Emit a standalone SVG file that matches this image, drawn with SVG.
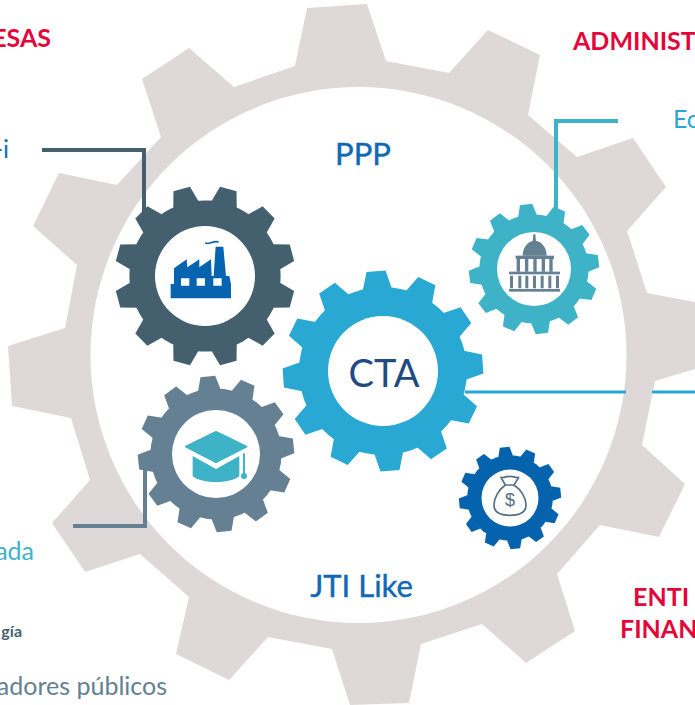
<svg xmlns="http://www.w3.org/2000/svg" width="695" height="705" viewBox="0 0 695 705">
<style>
text{font-family:Lato,"Open Sans","Liberation Sans",sans-serif}
.red{font-size:25px;font-weight:700;fill:#E4063A}
.big{font-size:31px;fill:#0F69B4;stroke:#0F69B4;stroke-width:.4px}
.lbl{font-size:25px}
.conn{fill:none;stroke-width:4}
.hole{fill:#fff}
</style>
<defs>
<polygon id="t" points="-14.500,-82 -9.500,-100 9.500,-100 14.500,-82"/>
<g id="gear">
<circle r="84"/>
<use href="#t"/><use href="#t" transform="rotate(30)"/><use href="#t" transform="rotate(60)"/><use href="#t" transform="rotate(90)"/><use href="#t" transform="rotate(120)"/><use href="#t" transform="rotate(150)"/><use href="#t" transform="rotate(180)"/><use href="#t" transform="rotate(210)"/><use href="#t" transform="rotate(240)"/><use href="#t" transform="rotate(270)"/><use href="#t" transform="rotate(300)"/><use href="#t" transform="rotate(330)"/>
</g>
</defs>
<rect width="695" height="705" fill="#fff"/>
<g id="big-gear">
<path fill="#DFD8D9" fill-rule="evenodd" d="M307,8L367,4L386,61L449,73L488,30L540,55L528,115L577,157L633,138L666,187L627,231L647,293L695,302V369L655,381L642,445L685,484L659,537L600,525L557,574L575,631L526,663L482,624L421,644L409,703L350,705L332,649L268,637L229,680L176,654L189,597L140,554L85,572L52,523L90,480L71,418L12,406L8,346L65,328L77,265L33,226L59,173L117,185L161,137L142,79L189,48L234,87L295,66ZM358.500,87A268,268 0 1 0 358.500,623A268,268 0 1 0 358.500,87Z"/>
</g>
<g id="connectors">
<path class="conn" stroke="#44606F" d="M42,150H144V212"/>
<path class="conn" stroke="#3EB3C7" d="M618,121H556V210"/>
<path class="conn" stroke="#648092" d="M73,526H145V470"/>
<path class="conn" stroke="#29A8D4" style="stroke-width:3" d="M465,392H626M652,392H695"/>
</g>
<g id="gear-empresas">
<use href="#gear" fill="#44606F" transform="translate(205,276) scale(.9) rotate(15)"/>
<circle class="hole" cx="205" cy="276" r="50"/>
<g transform="translate(100,170) scale(.3333)">
<path fill="#0563B0" d="M212,342H222V295L260,268L262,292L298,268L298,292L333,268L335,318H341L347,230H370L378,318H388L393,342V385H212Z"/>
<path fill="#fff" d="M243,325h25v22h-25zM290,325h25v22h-25zM340,325h25v22h-25z"/>
<path fill="none" stroke="#0563B0" stroke-width="5" d="M316,218C325,228 338,210 356,216"/>
</g>
</g>
<g id="gear-academia">
<use href="#gear" fill="#648092" transform="translate(216,454) scale(.78) rotate(-6)"/>
<circle class="hole" cx="216" cy="454" r="44"/>
<g transform="translate(120,370) scale(.3333)" fill="#3EB3C7">
<path stroke="#3EB3C7" stroke-width="6" stroke-linejoin="round" d="M198,230L288,186L379,230L288,276Z"/>
<path d="M218,258L288,297L358,258V318C330,342 246,342 218,318Z"/>
<rect x="369" y="250" width="6" height="68"/>
<circle cx="372" cy="318" r="9"/>
</g>
</g>
<g id="gear-cta">
<use href="#gear" fill="#29A8D4" transform="translate(383,371) rotate(-4)"/>
<circle class="hole" cx="383" cy="371" r="55"/>
<text x="384" y="387" text-anchor="middle" font-size="38" fill="#1F4A82">CTA</text>
</g>
<g id="gear-administracion">
<use href="#gear" fill="#3EB3C7" transform="translate(534,269) scale(.65) rotate(-7)"/>
<circle class="hole" cx="534" cy="269" r="37"/>
<g transform="translate(450,90) scale(.3333)" fill="#648092">
<path d="M250,433h6l2,22h-10z"/>
<path d="M218,497C218,470 236,452 254,452C272,452 290,470 290,497Z"/>
<rect x="197" y="497" width="115" height="10"/>
<path d="M200,507h10v38h-10zM225,507h10v38h-10zM250,507h10v38h-10zM275,507h10v38h-10zM298,507h10v38h-10z"/>
<rect x="177" y="545" width="153" height="8"/>
<path d="M180,557h9v38h-9zM205,557h9v38h-9zM226,557h9v38h-9zM249,557h9v38h-9zM272,557h9v38h-9zM295,557h9v38h-9zM318,557h9v38h-9z"/>
<rect x="177" y="597" width="153" height="8"/>
</g>
</g>
<g id="gear-financiacion">
<use href="#gear" fill="#0563AE" transform="translate(510,498) scale(.51) rotate(-6)"/>
<circle class="hole" cx="510" cy="498" r="28.500"/>
<g transform="translate(440,430) scale(.3333)">
<path fill="none" stroke="#55707F" stroke-width="5" stroke-linejoin="round" d="M183,142C195,145 200,136 208,140C216,136 226,145 236,142L222,165C245,180 258,205 258,225C258,248 240,256 210,256C180,256 162,248 162,225C162,205 175,180 196,165ZM196,165H222"/>
<text x="210" y="228" text-anchor="middle" font-size="54" fill="#55707F" style="font-family:'Liberation Sans',sans-serif">$</text>
</g>
</g>
<g id="labels">
<text class="red" x="51" y="47" text-anchor="end">ESAS</text>
<text class="red" x="573" y="50">ADMINIST</text>
<text class="red" x="633" y="606">ENTI</text>
<text class="red" x="620" y="638">FINAN</text>
<text class="lbl" x="9" y="158" text-anchor="end" fill="#0A6FC2">-i</text>
<text class="lbl" x="673" y="128" fill="#29A8D4">Ec</text>
<text class="lbl" x="34" y="560" text-anchor="end" fill="#3EB3C7">ada</text>
<text x="22" y="637" text-anchor="end" font-size="16" font-weight="700" fill="#44606F">gía</text>
<text x="167" y="695" text-anchor="end" font-size="25" fill="#648092">adores públicos</text>
<text class="big" x="363" y="165" text-anchor="middle">PPP</text>
<text class="big" x="361.500" y="597" text-anchor="middle">JTI Like</text>
</g>
</svg>
